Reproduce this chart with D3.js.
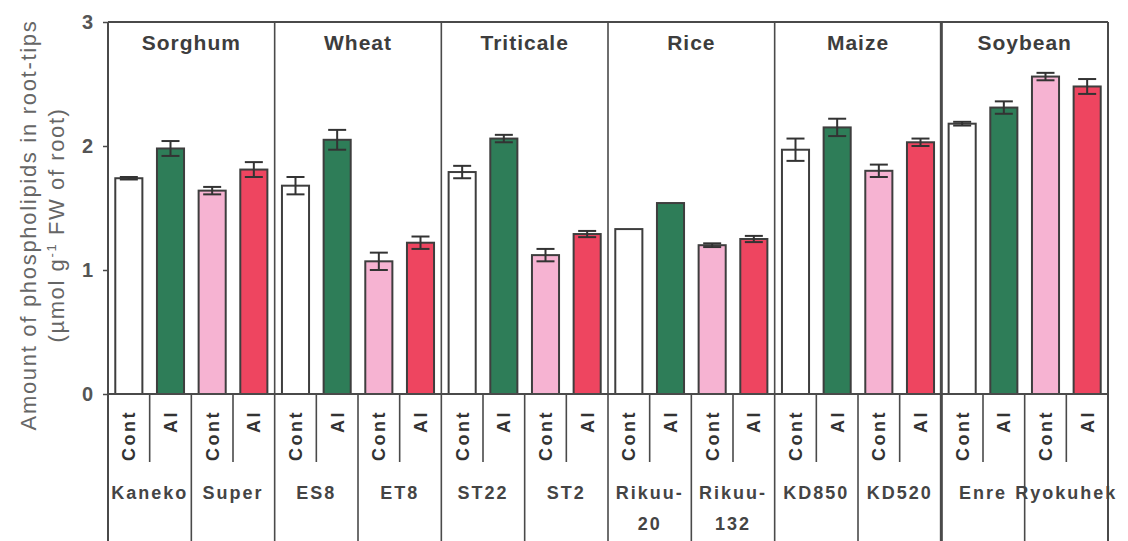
<!DOCTYPE html>
<html>
<head>
<meta charset="utf-8">
<script src="https://cdn.jsdelivr.net/npm/d3@7/dist/d3.min.js"></script>
<style>
  html, body { margin: 0; padding: 0; background: #fff; }
  svg { display: block; font-family: "Liberation Sans", Arial, sans-serif; }
</style>
</head>
<body>
<svg id="chart" width="1128" height="541"></svg>
<script>
// Crop groups, two cultivars each, and the Cont / Al treatments
const crops = ["Sorghum", "Wheat", "Triticale", "Rice", "Maize", "Soybean"];
const cultivars = ["Kaneko", "Super", "ES8", "ET8", "ST22", "ST2", "Rikuu-20", "Rikuu-132", "KD850", "KD520", "Enrei", "Ryokuhekiu"];
const cultivarLabels = [["Kaneko"], ["Super"], ["ES8"], ["ET8"], ["ST22"], ["ST2"], ["Rikuu-", "20"], ["Rikuu-", "132"], ["KD850"], ["KD520"], ["Enre"], ["Ryokuhek"]];
const treatments = ["Cont", "Al"];

// Phospholipid content (µmol g-1 FW), one pair per cultivar: [Cont, Al]
const contValues = [1.74, 1.64, 1.68, 1.07, 1.79, 1.12, 1.33, 1.20, 1.97, 1.80, 2.18, 2.56];
const alValues   = [1.98, 1.81, 2.05, 1.22, 2.06, 1.29, 1.54, 1.25, 2.15, 2.03, 2.31, 2.48];
const contErrors = [0.01, 0.03, 0.07, 0.07, 0.05, 0.05, 0.00, 0.015, 0.09, 0.05, 0.015, 0.03];
const alErrors   = [0.06, 0.06, 0.08, 0.05, 0.03, 0.025, 0.00, 0.025, 0.07, 0.03, 0.05, 0.06];
const yTicks = [0, 1, 2, 3];

const pLeft = 108, pRight = 1108, pTop = 22, pBase = 394, pBottom = 541;

const bars = [];
cultivars.forEach((c, i) => {
  const tolerant = i % 2 === 0;
  treatments.forEach(tr => {
    const isCont = tr === "Cont";
    bars.push({
      key: c + "|" + tr, cultivar: i, treat: tr,
      value: isCont ? contValues[i] : alValues[i],
      err: isCont ? contErrors[i] : alErrors[i],
      fill: isCont ? (tolerant ? "#ffffff" : "#f6b3d2") : (tolerant ? "#2e7d58" : "#ee4560")
    });
  });
});

const svg = d3.select("#chart");
const lineColor = "#4a4a4a";

const x = d3.scaleBand().domain(bars.map(d => d.key)).range([pLeft, pRight])
  .paddingInner(0.35).paddingOuter(0.175);
const y = d3.scaleLinear().domain([0, 3]).range([pBase, pTop]);
const step = x.step();
const slotStart = k => x(k) - step * 0.175;
const mid = d => x(d.key) + x.bandwidth() / 2;

// Bars
svg.append("g").selectAll("rect").data(bars).join("rect")
  .attr("x", d => x(d.key))
  .attr("y", d => y(d.value))
  .attr("width", x.bandwidth())
  .attr("height", d => y(0) - y(d.value))
  .attr("fill", d => d.fill)
  .attr("stroke", "#3e3e3e")
  .attr("stroke-width", 2);

// Error bars
const eb = svg.append("g").attr("stroke", "#333").attr("stroke-width", 2)
  .selectAll("g").data(bars.filter(d => d.err > 0)).join("g");
const cap = 9;
eb.append("line")
  .attr("x1", mid).attr("x2", mid)
  .attr("y1", d => y(d.value - d.err)).attr("y2", d => y(d.value + d.err));
eb.append("line")
  .attr("x1", d => mid(d) - cap).attr("x2", d => mid(d) + cap)
  .attr("y1", d => y(d.value + d.err)).attr("y2", d => y(d.value + d.err));
eb.append("line")
  .attr("x1", d => mid(d) - cap).attr("x2", d => mid(d) + cap)
  .attr("y1", d => y(d.value - d.err)).attr("y2", d => y(d.value - d.err));

// Frame: top edge, baseline, outer edges
const frame = svg.append("g").attr("stroke", lineColor).attr("fill", "none");
frame.append("line").attr("x1", pLeft).attr("x2", pRight).attr("y1", pTop).attr("y2", pTop).attr("stroke-width", 2);
frame.append("line").attr("x1", pLeft).attr("x2", pRight).attr("y1", pBase).attr("y2", pBase).attr("stroke-width", 2);
frame.append("line").attr("x1", pRight).attr("x2", pRight).attr("y1", pTop).attr("y2", pBottom).attr("stroke-width", 2);
frame.append("line").attr("x1", pLeft).attr("x2", pLeft).attr("y1", pTop).attr("y2", pBottom).attr("stroke-width", 2);

// Crop separators (full height)
crops.forEach((c, g) => {
  if (g === 0) return;
  const xs = slotStart(bars[g * 4].key);
  frame.append("line").attr("x1", xs).attr("x2", xs).attr("y1", pTop).attr("y2", pBottom)
    .attr("stroke-width", g === 5 ? 3 : 1.6);
});

// Cultivar separators and Cont / Al dividers in the label table
cultivars.forEach((c, i) => {
  if (i % 2 === 1) {
    const xs = slotStart(bars[i * 2].key);
    frame.append("line").attr("x1", xs).attr("x2", xs).attr("y1", pBase).attr("y2", pBottom).attr("stroke-width", 1.6);
  }
  const xd = slotStart(bars[i * 2 + 1].key);
  frame.append("line").attr("x1", xd).attr("x2", xd).attr("y1", pBase).attr("y2", 462).attr("stroke-width", 1.6);
});

// Y axis ticks and labels
const yAxis = svg.append("g").attr("transform", `translate(${pLeft},0)`)
  .call(d3.axisLeft(y).tickValues(yTicks).tickFormat(d3.format("d")).tickSize(5).tickPadding(10));
yAxis.select(".domain").remove();
yAxis.selectAll(".tick line").attr("stroke", lineColor).attr("stroke-width", 1.5);
yAxis.selectAll(".tick text").attr("font-size", 20).attr("font-weight", "bold").attr("fill", "#555")
  .attr("font-family", "'Liberation Sans', Arial, sans-serif");

// Crop titles
svg.append("g").selectAll("text").data(crops).join("text")
  .attr("x", (c, g) => slotStart(bars[g * 4].key) + step * 2)
  .attr("y", 50)
  .attr("text-anchor", "middle")
  .attr("font-size", 21).attr("font-weight", "bold").attr("letter-spacing", 1)
  .attr("fill", "#3d3d3d")
  .text(d => d);

// Treatment labels, rotated
svg.append("g").selectAll("text").data(bars).join("text")
  .attr("transform", d => `translate(${mid(d)},410) rotate(-90)`)
  .attr("dy", "0.36em")
  .attr("text-anchor", "end")
  .attr("font-size", 18).attr("font-weight", "bold").attr("letter-spacing", 2.5)
  .attr("fill", "#333")
  .text(d => d.treat);

// Cultivar labels
const cl = svg.append("g").selectAll("text").data(cultivarLabels).join("text")
  .attr("y", 499)
  .attr("text-anchor", "middle")
  .attr("font-size", 18).attr("font-weight", "bold").attr("letter-spacing", 2)
  .attr("fill", "#444");
cl.each(function(lines, i) {
  const t = d3.select(this);
  lines.forEach((s, k) => {
    t.append("tspan").attr("x", slotStart(bars[i * 2].key) + step).attr("dy", k === 0 ? 0 : 31).text(s);
  });
});

// Y axis title
const yc = 225;
svg.append("text")
  .attr("transform", `translate(28,${yc}) rotate(-90)`)
  .attr("dy", "0.35em").attr("text-anchor", "middle")
  .attr("font-size", 22).attr("letter-spacing", 1.7).attr("fill", "#666")
  .text("Amount of phospholipids in root-tips");
const t2 = svg.append("text")
  .attr("transform", `translate(56,${yc}) rotate(-90)`)
  .attr("dy", "0.35em").attr("text-anchor", "middle")
  .attr("font-size", 22).attr("letter-spacing", 1.6).attr("fill", "#666");
t2.append("tspan").text("(µmol g");
t2.append("tspan").attr("font-size", 13).attr("dy", -8).text("-1");
t2.append("tspan").attr("dy", 8).text(" FW of root)");
</script>
</body>
</html>
